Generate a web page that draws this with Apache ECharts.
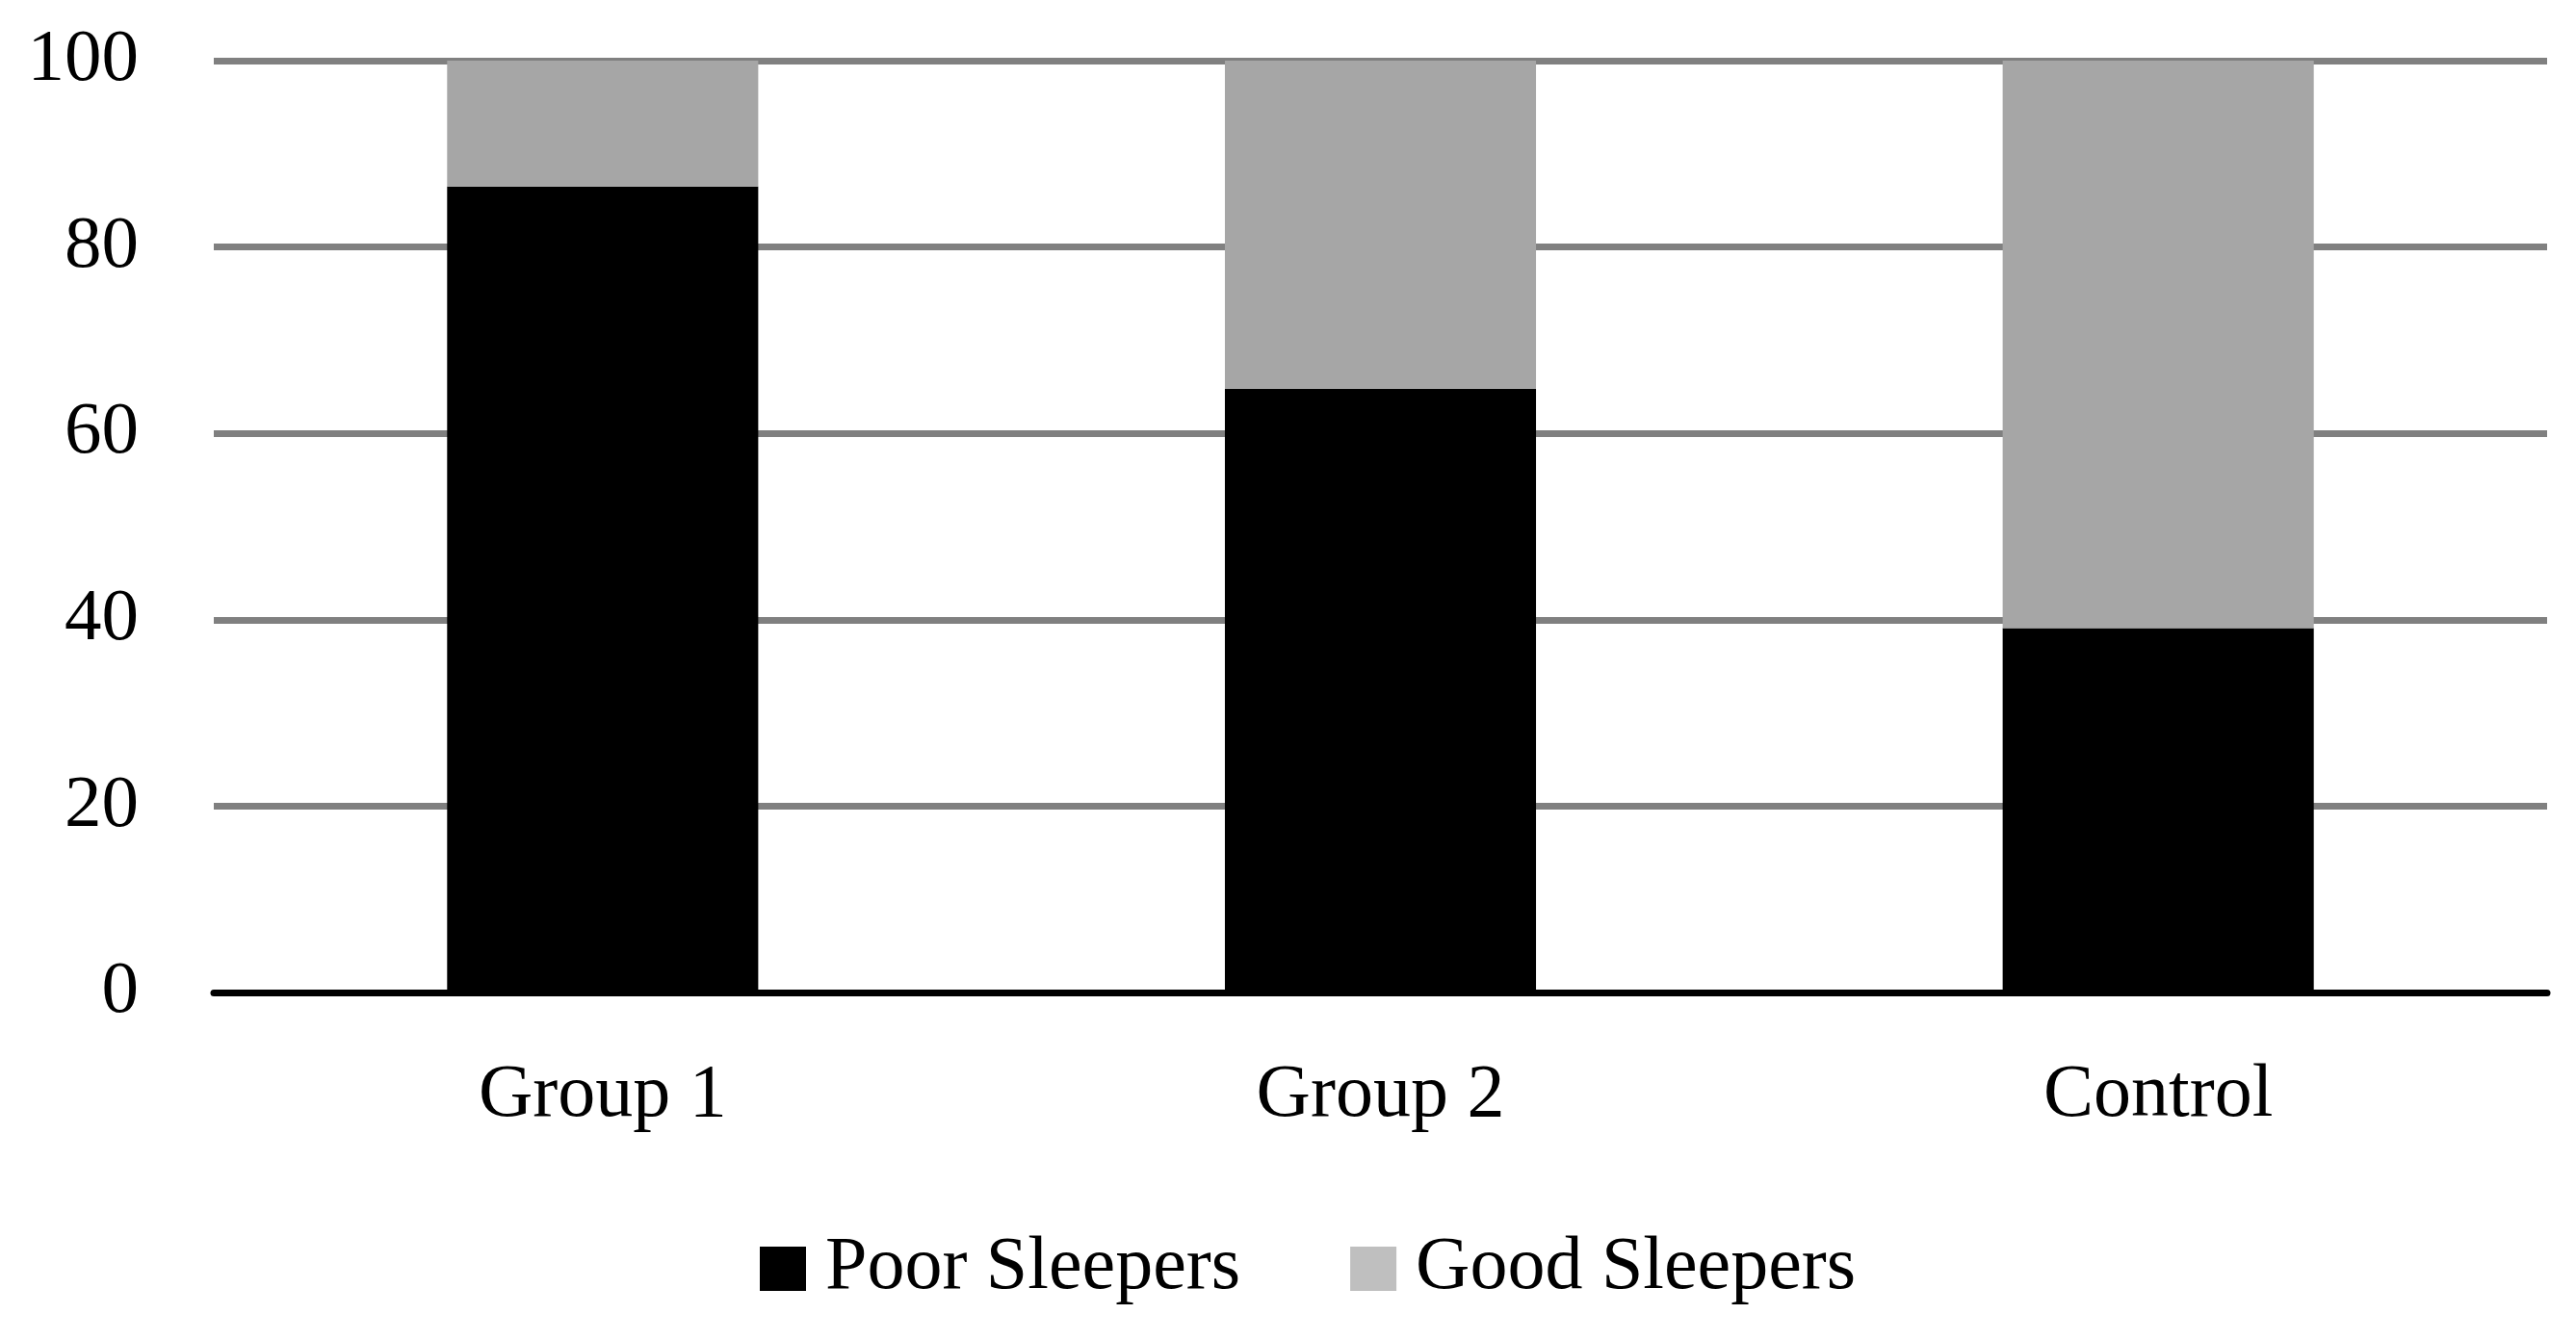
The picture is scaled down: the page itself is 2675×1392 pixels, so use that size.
<!DOCTYPE html>
<html>
<head>
<meta charset="utf-8">
<script src="https://cdn.jsdelivr.net/npm/echarts@6/dist/echarts.min.js"></script>
<style>
  html, body { margin: 0; padding: 0; background: #ffffff; }
  #chart { width: 2675px; height: 1392px; }
</style>
</head>
<body>
<div id="chart"></div>
<script>
const categories = ['Group 1', 'Group 2', 'Control'];
const poorSleepers = [86.5, 64.8, 39.1];
const goodSleepers = [13.5, 35.2, 60.9];
const seriesNames = ['Poor Sleepers', 'Good Sleepers'];
const yTicks = { min: 0, max: 100, interval: 20 };

const FONT = 'Liberation Serif';
const chart = echarts.init(document.getElementById('chart'));
chart.setOption({
  backgroundColor: '#ffffff',
  animation: false,
  grid: { left: 222, right: 30, top: 63, bottom: 361, containLabel: false },
  legend: {
    left: 784,
    top: 1274,
    itemWidth: 48,
    itemHeight: 46,
    itemGap: 114,
    icon: 'rect',
    textStyle: { fontFamily: FONT, fontSize: 78, color: '#000000', padding: [0, 0, 0, 15] },
    data: [
      { name: seriesNames[0], itemStyle: { color: '#000000' } },
      { name: seriesNames[1], itemStyle: { color: '#bfbfbf' } }
    ]
  },
  xAxis: {
    type: 'category',
    data: categories,
    axisLine: { show: true, lineStyle: { color: '#000000', width: 7 } },
    axisTick: { show: false },
    axisLabel: { fontFamily: FONT, fontSize: 78, color: '#000000', margin: 69 },
    splitLine: { show: false }
  },
  yAxis: {
    type: 'value',
    min: yTicks.min,
    max: yTicks.max,
    interval: yTicks.interval,
    axisLine: { show: false },
    axisTick: { show: false },
    axisLabel: { fontFamily: FONT, fontSize: 77, color: '#000000', margin: 78 },
    splitLine: { show: true, lineStyle: { color: '#808080', width: 7 } }
  },
  series: [
    {
      name: seriesNames[0],
      type: 'bar',
      stack: 'total',
      barWidth: '40%',
      data: poorSleepers,
      itemStyle: { color: '#000000' }
    },
    {
      name: seriesNames[1],
      type: 'bar',
      stack: 'total',
      barWidth: '40%',
      data: goodSleepers,
      itemStyle: { color: '#a6a6a6' }
    }
  ]
});
</script>
</body>
</html>
